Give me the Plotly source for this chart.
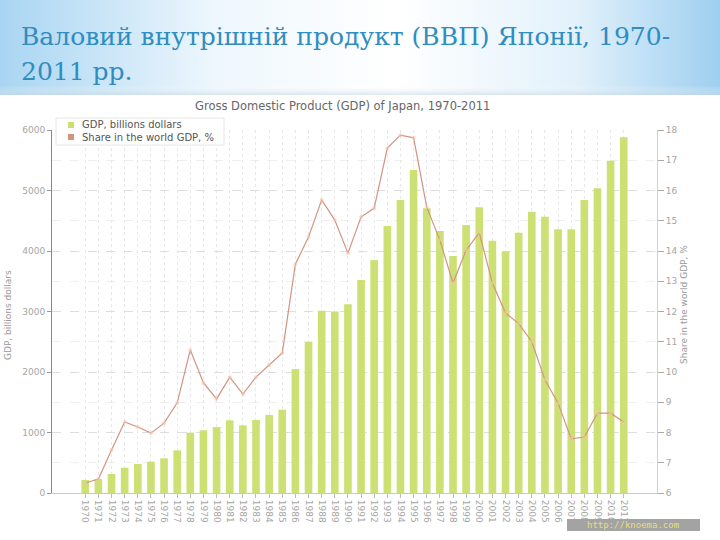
import base64
import plotly.graph_objects as go

years = [str(y) for y in range(1970, 2012)]
gdp = [215, 231, 314, 418, 479, 518, 573, 705, 997, 1036,
       1090, 1201, 1118, 1206, 1289, 1377, 2050, 2496, 3014, 3000,
       3118, 3521, 3851, 4413, 4843, 5339, 4706, 4331, 3917, 4430,
       4722, 4171, 3989, 4303, 4650, 4567, 4358, 4358, 4843, 5036,
       5493, 5879]
share = [6.33, 6.46, 7.42, 8.35, 8.18, 7.98, 8.31, 8.98, 10.73, 9.64,
         9.11, 9.83, 9.27, 9.83, 10.23, 10.63, 13.57, 14.46, 15.69, 15.02,
         13.93, 15.12, 15.42, 17.40, 17.83, 17.74, 15.45, 14.36, 12.94, 14.03,
         14.60, 12.94, 11.95, 11.60, 11.00, 9.74, 8.97, 7.79, 7.85, 8.64,
         8.64, 8.35]

title_line1 = "Валовий внутрішній продукт (ВВП) Японії, 1970-"
title_line2 = "2011 рр."
chart_title = "Gross Domestic Product (GDP) of Japan, 1970-2011"
gdp_name = "GDP, billions dollars"
share_name = "Share in the world GDP, %"
source_text = "http://knoema.com"

W, H = 720, 540
L, R, T, B = 52, 657, 130, 493
PW, PH = R - L, B - T


def px(x):
    return (x - L) / PW


def py(y):
    return (B - y) / PH


BAR_C = "#cadf6c"
LINE_C = "#d29480"
GRAY = "#9a9a9a"

fig = go.Figure()
fig.add_trace(go.Bar(x=years, y=gdp, name=gdp_name, marker_color=BAR_C,
                     marker_line_width=0, width=0.58, opacity=0.95,
                     showlegend=False))
fig.add_trace(go.Scatter(x=years, y=share, name=share_name, yaxis="y2",
                         mode="lines+markers",
                         line=dict(color=LINE_C, width=1.2),
                         marker=dict(size=4, color="rgba(246,196,170,0.6)"),
                         showlegend=False))

svg = (
    '<svg xmlns="http://www.w3.org/2000/svg" width="720" height="95">'
    '<defs><linearGradient id="g" x1="0" y1="0" x2="1" y2="0">'
    '<stop offset="0" stop-color="#a9d5f2"/>'
    '<stop offset="0.3" stop-color="#eef7fd"/>'
    '<stop offset="0.55" stop-color="#ffffff"/>'
    '<stop offset="0.8" stop-color="#e2f1fb"/>'
    '<stop offset="1" stop-color="#9ecff0"/>'
    '</linearGradient>'
    '<linearGradient id="v" x1="0" y1="0" x2="0" y2="1">'
    '<stop offset="0" stop-color="#ffffff" stop-opacity="0"/>'
    '<stop offset="0.9" stop-color="#ffffff" stop-opacity="0"/>'
    '<stop offset="1" stop-color="#c8d8e4" stop-opacity="0.6"/>'
    '</linearGradient></defs>'
    '<rect width="720" height="95" fill="url(#g)"/>'
    '<rect width="720" height="95" fill="url(#v)"/>'
    '</svg>'
)
src = "data:image/svg+xml;base64," + base64.b64encode(svg.encode()).decode()

fig.update_layout(
    width=W, height=H,
    margin=dict(l=L, r=W - R, t=T, b=H - B, pad=0),
    paper_bgcolor="white", plot_bgcolor="white",
    font=dict(family="DejaVu Sans", size=9, color=GRAY),
    bargap=0.42,
    showlegend=False,
    images=[dict(source=src, xref="paper", yref="paper",
                 x=px(0), y=py(0), sizex=W / PW, sizey=95 / PH,
                 xanchor="left", yanchor="top", sizing="stretch",
                 layer="below")],
    xaxis=dict(type="category", tickangle=90, showline=True,
               linecolor="#c8c8c8", ticks="outside", ticklen=4,
               tickcolor="#bbb", showgrid=True, gridcolor="#e8e8e8",
               griddash="dot", tickfont=dict(size=9, color="#a5a5a5"),
               automargin=False),
    yaxis=dict(range=[0, 6000], dtick=1000, showline=True,
               linecolor="#888", linewidth=1, ticks="outside", ticklen=4,
               tickcolor="#999", showgrid=True, gridcolor="#dedede",
               griddash="dash", zeroline=False,
               minor=dict(dtick=500, showgrid=True, gridcolor="#efefef",
                          griddash="dash"),
               tickfont=dict(size=9, color="#a5a5a5"), automargin=False),
    yaxis2=dict(range=[6, 18], dtick=1, overlaying="y", side="right",
                showline=True, linecolor="#cfcfcf", ticks="outside",
                ticklen=6, tickcolor="#aaa", showgrid=False, zeroline=False,
                tickfont=dict(size=9, color="#a5a5a5"), automargin=False),
)

TITLE_FONT = dict(family="DejaVu Serif", size=25, color="#2f8dbf")
ann = [
    dict(text=title_line1, x=px(19), y=py(37), xanchor="left",
         yanchor="middle", font=TITLE_FONT),
    dict(text=title_line2, x=px(19), y=py(71), xanchor="left",
         yanchor="middle", font=TITLE_FONT),
    dict(text=chart_title, x=px(342), y=py(106), xanchor="center",
         yanchor="middle", font=dict(family="DejaVu Sans", size=11.5,
                                     color="#666")),
    dict(text=gdp_name, x=px(8), y=py(315), textangle=-90,
         xanchor="center", yanchor="middle",
         font=dict(family="DejaVu Sans", size=9, color=GRAY)),
    dict(text=share_name, x=px(684), y=py(305), textangle=-90,
         xanchor="center", yanchor="middle",
         font=dict(family="DejaVu Sans", size=9, color=GRAY)),
    dict(text=source_text, x=px(633), y=py(525), xanchor="center",
         yanchor="middle", font=dict(family="DejaVu Sans Mono", size=9,
                                     color="#e6df78")),
    # legend text
    dict(text=gdp_name, x=px(80), y=py(125), xanchor="left",
         yanchor="middle", font=dict(family="DejaVu Sans", size=10,
                                     color="#555")),
    dict(text=share_name, x=px(80), y=py(137), xanchor="left",
         yanchor="middle", font=dict(family="DejaVu Sans", size=10,
                                     color="#555")),
]
for a in ann:
    a.update(xref="paper", yref="paper", showarrow=False)
fig.update_layout(annotations=ann)

shapes = [
    dict(type="rect", x0=px(567), x1=px(700), y0=py(531), y1=py(519),
         fillcolor="#a3a3a3", line_width=0, layer="below"),
    # legend box
    dict(type="rect", x0=px(56), x1=px(224), y0=py(145), y1=py(118),
         fillcolor="white", line=dict(color="#e6e6e6", width=1),
         layer="above"),
    dict(type="rect", x0=px(68), x1=px(74), y0=py(128), y1=py(122),
         fillcolor=BAR_C, line_width=0, layer="above"),
    dict(type="rect", x0=px(68), x1=px(74), y0=py(140), y1=py(134),
         fillcolor=LINE_C, line_width=0, layer="above"),
]
for s in shapes:
    s.update(xref="paper", yref="paper")
fig.update_layout(shapes=shapes)

fig.write_html("out.html")
